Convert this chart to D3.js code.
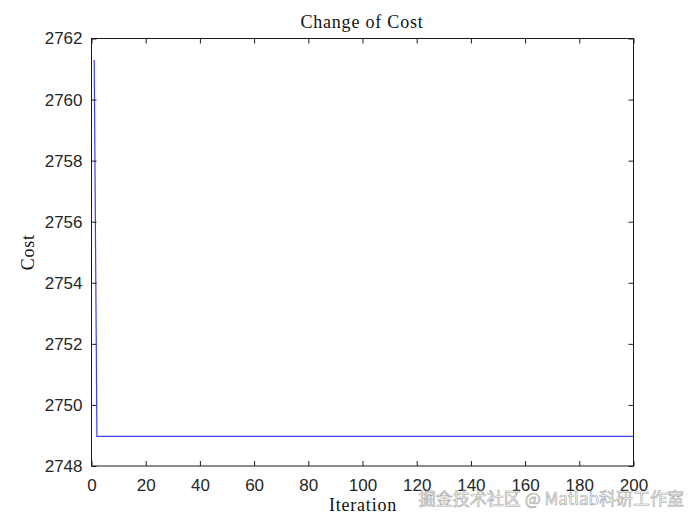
<!DOCTYPE html>
<html><head><meta charset="utf-8">
<script src="https://cdn.jsdelivr.net/npm/d3@7"></script>
<style>body{margin:0;background:#fff}</style>
</head><body>
<svg id="c" width="700" height="525"></svg>
<script>
const iterations = [1, 2, 200];
const costs = [2761.3, 2748.97, 2748.97];
const xTicks = [0, 20, 40, 60, 80, 100, 120, 140, 160, 180, 200];
const yTicks = [2748, 2750, 2752, 2754, 2756, 2758, 2760, 2762];

const svg = d3.select("#c");
const L = 91.5, R = 633.5, T = 38.5, B = 466;
const x = d3.scaleLinear().domain([0, 200]).range([L, R]);
const y = d3.scaleLinear().domain([2748, 2762]).range([B, T]);
const tickFont = "Liberation Sans, Arial, sans-serif";
const serif = "Liberation Serif, DejaVu Serif, serif";

svg.append("rect").attr("x", L).attr("y", T).attr("width", R - L).attr("height", B - T)
  .attr("fill", "#fff").attr("stroke", "none");

const line = d3.line().x((d, i) => x(iterations[i])).y(d => y(d));
svg.append("path").datum(costs).attr("d", line)
  .attr("fill", "none").attr("stroke", "#4040ea").attr("stroke-width", 1.2);

function styleAxis(g) {
  g.select(".domain").remove();
  g.selectAll(".tick line").attr("stroke", "#1a1a1a").attr("stroke-width", 1);
  g.selectAll(".tick text").attr("fill", "#262626").style("font-family", tickFont).style("font-size", "17px");
}
const fmt = d3.format("d");
svg.append("g").attr("transform", `translate(0,${B})`)
  .call(d3.axisBottom(x).tickValues(xTicks).tickFormat(fmt).tickSize(-5).tickPadding(13))
  .call(styleAxis);
svg.append("g").attr("transform", `translate(0,${T})`)
  .call(d3.axisTop(x).tickValues(xTicks).tickSize(-5).tickFormat(""))
  .call(styleAxis);
svg.append("g").attr("transform", `translate(${L},0)`)
  .call(d3.axisLeft(y).tickValues(yTicks).tickFormat(fmt).tickSize(-5).tickPadding(9))
  .call(styleAxis);
svg.append("g").attr("transform", `translate(${R},0)`)
  .call(d3.axisRight(y).tickValues(yTicks).tickSize(-5).tickFormat(""))
  .call(styleAxis);

svg.append("rect").attr("x", L).attr("y", T).attr("width", R - L).attr("height", B - T)
  .attr("fill", "none").attr("stroke", "#1a1a1a").attr("stroke-width", 1);

function serifText(t) {
  return t.style("font-family", serif).style("font-size", "18px")
    .style("letter-spacing", "0.8px").attr("fill", "#111");
}
serifText(svg.append("text").attr("x", 362).attr("y", 28).attr("text-anchor", "middle"))
  .text("Change of Cost");
serifText(svg.append("text").attr("x", 363).attr("y", 511).attr("text-anchor", "middle"))
  .text("Iteration");
serifText(svg.append("text").attr("transform", `translate(34,${(T + B) / 2}) rotate(-90)`).attr("text-anchor", "middle"))
  .text("Cost");

svg.append("text").attr("x", 684).attr("y", 505).attr("text-anchor", "end")
  .style("font-family", "Noto Sans CJK SC, sans-serif").style("font-size", "17px")
  .attr("fill", "#ffffff").attr("stroke", "#999").attr("stroke-width", 0.6).attr("opacity", 0.9)
  .text("掘金技术社区 @ Matlab科研工作室");
</script>
</body></html>
